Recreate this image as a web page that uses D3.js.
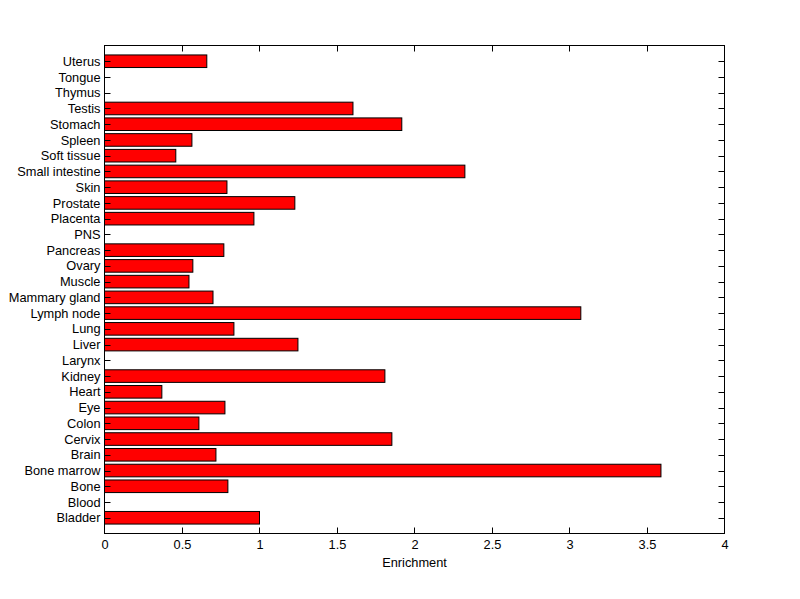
<!DOCTYPE html>
<html><head><meta charset="utf-8">
<script src="https://cdn.jsdelivr.net/npm/d3@7"></script>
<style>body{margin:0;background:#fff}text{font-family:Arial,"Liberation Sans",sans-serif}</style>
</head><body>
<svg id="c" width="800" height="599"></svg>
<script>
const categories = ["Bladder","Blood","Bone","Bone marrow","Brain","Cervix","Colon","Eye","Heart","Kidney","Larynx","Liver","Lung","Lymph node","Mammary gland","Muscle","Ovary","Pancreas","PNS","Placenta","Prostate","Skin","Small intestine","Soft tissue","Spleen","Stomach","Testis","Thymus","Tongue","Uterus"];
const values = [1.0,0,0.796,3.59,0.719,1.854,0.609,0.777,0.37,1.809,0,1.248,0.835,3.073,0.70,0.545,0.57,0.77,0,0.964,1.228,0.79,2.325,0.46,0.564,1.918,1.603,0,0,0.66];
const xTicks = [0,0.5,1,1.5,2,2.5,3,3.5,4];
const xLabel = "Enrichment";

const svg = d3.select("#c");
const L = 104.5, R = 724.5, T = 45.5, B = 533.5;
const x = d3.scaleLinear().domain([0,4]).range([L,R]);
const y = d3.scaleLinear().domain([0,categories.length+1]).range([B,T]);
const bw = 0.8;
const fs = 12.8;
const data = categories.map((c,i)=>({c, v: values[i], i: i+1}));

svg.append("g").selectAll("rect").data(data.filter(d=>d.v>0)).join("rect")
  .attr("x", x(0)).attr("width", d=>x(d.v)-x(0))
  .attr("y", d=>y(d.i+bw/2)).attr("height", d=>y(d.i-bw/2)-y(d.i+bw/2))
  .attr("fill","#ff0000").attr("stroke","#000").attr("stroke-width",1);

const tl = 6;
const g = svg.append("g").attr("stroke","#000").attr("stroke-width",1).attr("fill","none");
g.append("rect").attr("x",L).attr("y",T).attr("width",R-L).attr("height",B-T);
xTicks.forEach(t=>{
  const xx = Math.round(x(t)-0.5)+0.5;
  g.append("line").attr("x1",xx).attr("x2",xx).attr("y1",B).attr("y2",B-tl);
  g.append("line").attr("x1",xx).attr("x2",xx).attr("y1",T).attr("y2",T+tl);
});
data.forEach(d=>{
  const yy = Math.round(y(d.i))+0.5;
  g.append("line").attr("x1",L).attr("x2",L+tl).attr("y1",yy).attr("y2",yy);
  g.append("line").attr("x1",R).attr("x2",R-tl).attr("y1",yy).attr("y2",yy);
});

const xAxis = d3.axisBottom(x).tickValues(xTicks).tickFormat(d=>String(d)).tickSize(0).tickPadding(6);
const ax = svg.append("g").attr("transform",`translate(0,${B})`).call(xAxis);
ax.select(".domain").remove();
ax.selectAll("text").attr("font-size",fs).attr("font-family","Arial, 'Liberation Sans', sans-serif").attr("fill","#000");

const yAxis = d3.axisLeft(d3.scalePoint().domain(categories).range([y(1),y(categories.length)])).tickSize(0).tickPadding(4);
const ay = svg.append("g").attr("transform",`translate(${L},0)`).call(yAxis);
ay.select(".domain").remove();
ay.selectAll("text").attr("font-size",fs).attr("font-family","Arial, 'Liberation Sans', sans-serif").attr("fill","#000");

svg.append("text").attr("x",(L+R)/2).attr("y",567).attr("text-anchor","middle")
  .attr("font-size",fs).attr("fill","#000").text(xLabel);
</script>
</body></html>
